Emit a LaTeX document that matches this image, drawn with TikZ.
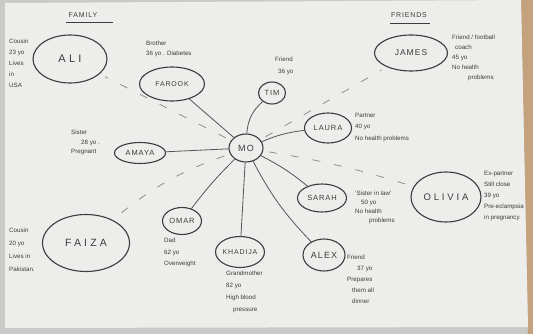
\documentclass[tikz,border=0pt]{standalone}
\usepackage{fontspec}
\setmainfont{Liberation Sans}
\newfontfamily\namefont[LetterSpace=12]{Liberation Sans}
\newfontfamily\widefont[LetterSpace=30]{Liberation Sans}
\usetikzlibrary{shapes.geometric}
\definecolor{paper}{HTML}{EDEDEB}
\definecolor{desk}{HTML}{C4A27E}
\definecolor{floorgray}{HTML}{C9C9C7}
\definecolor{ink}{HTML}{3C3C3C}
\definecolor{pencil}{HTML}{555555}
\definecolor{faint}{HTML}{8E8E8C}
\tikzset{
  person/.style={ellipse, draw=ink, line width=1.1pt, inner sep=0pt,
    text=ink, font=\namefont\fontsize{7.5}{7.5}\selectfont},
  note/.style={text=ink, align=left, inner sep=0pt, anchor=north west,
    font=\fontsize{6.2}{10}\selectfont},
  heading/.style={text=ink, inner sep=0pt, font=\namefont\fontsize{7}{7}\selectfont},
  tie/.style={draw=pencil, line width=0.8pt},
  loose/.style={draw=faint, line width=0.8pt, dash pattern=on 8pt off 14pt,
    shorten <=6pt, shorten >=6pt}
}
\begin{document}
\begin{tikzpicture}[x=1pt, y=-1pt]
  \useasboundingbox (0,0) rectangle (533,334);
  % desk and sheet of paper
  \fill[floorgray] (0,0) rectangle (533,334);
  \fill[desk] (521,0) -- (533,0) -- (533,334) -- (528,334) -- cycle;
  \fill[paper] (5,3) -- (521,0) -- (528,327) -- (5,328) -- cycle;

  % group headings
  \node[heading] (family) at (83,15) {FAMILY};
  \draw[ink, line width=0.7pt] (family.south west) ++(-3,5) coordinate (fu1) -- ++(47,0) coordinate (fu2);
  \node[heading] (friends) at (409,15) {FRIENDS};
  \draw[ink, line width=0.7pt] (friends.south west) ++(-1,6) coordinate (fr1) -- ++(40,0) coordinate (fr2);

  % people
  \node[person, minimum width=34pt, minimum height=28pt,
        font=\namefont\fontsize{9}{9}\selectfont] (mo) at (246,148) {MO};
  \node[person, minimum width=74pt, minimum height=48pt,
        font=\widefont\fontsize{11}{11}\selectfont] (ali) at (70,59) {ALI};
  \node[person, minimum width=65pt, minimum height=34pt,
        font=\namefont\fontsize{7}{7}\selectfont] (farook) at (172,84) {FAROOK};
  \node[person, minimum width=27pt, minimum height=22pt] (tim) at (272,93) {TIM};
  \node[person, minimum width=73pt, minimum height=36pt,
        font=\namefont\fontsize{8.5}{8.5}\selectfont] (james) at (411,53) {JAMES};
  \node[person, minimum width=47pt, minimum height=30pt] (laura) at (328,128) {LAURA};
  \node[person, minimum width=51pt, minimum height=21pt] (amaya) at (140,153) {AMAYA};
  \node[person, minimum width=70pt, minimum height=50pt,
        font=\widefont\fontsize{9.5}{9.5}\selectfont] (olivia) at (446,197) {OLIVIA};
  \node[person, minimum width=49pt, minimum height=28pt] (sarah) at (322,198) {SARAH};
  \node[person, minimum width=39pt, minimum height=27pt] (omar) at (182,221) {OMAR};
  \node[person, minimum width=87pt, minimum height=57pt,
        font=\widefont\fontsize{10.5}{10.5}\selectfont] (faiza) at (86,243) {FAIZA};
  \node[person, minimum width=46pt, minimum height=31pt,
        font=\namefont\fontsize{7}{7}\selectfont] (khadija) at (240,252) {KHADIJA};
  \node[person, minimum width=42pt, minimum height=32pt,
        font=\namefont\fontsize{9}{9}\selectfont] (alex) at (324,255) {ALEX};

  % notes beside each person
  \node[note, font=\fontsize{6.2}{11}\selectfont] (alin) at (9,39) {Cousin\\23 yo\\Lives\\in\\USA};
  \node[note] (farookn) at (146,41) {Brother\\36 yo . Diabetes};
  \node[note, font=\fontsize{6.2}{12}\selectfont] (timn) at (275,57) {Friend\\\hspace*{3pt}36 yo};
  \node[note] (jamesn) at (452,35) {Friend / football\\\hspace*{3pt}coach\\45 yo\\No health\\\hspace*{16pt}problems};
  \node[note, font=\fontsize{6.2}{11.5}\selectfont] (lauran) at (355,113) {Partner\\40 yo\\No health problems};
  \node[note, font=\fontsize{6.2}{9.5}\selectfont] (amayan) at (71,130) {Sister\\\hspace*{10pt}28 yo .\\Pregnant};
  \node[note, font=\fontsize{6.2}{11}\selectfont] (olivian) at (484,171) {Ex-partner\\Still close\\39 yo\\Pre-eclampsia\\in pregnancy};
  \node[note, font=\fontsize{6.2}{9}\selectfont] (sarahn) at (355,191) {`Sister in law'\\\hspace*{6pt}50 yo\\No health\\\hspace*{14pt}problems};
  \node[note, font=\fontsize{6.2}{11.5}\selectfont] (omarn) at (164,238) {Dad\\62 yo\\Overweight};
  \node[note, font=\fontsize{6.2}{13}\selectfont] (faizan) at (9,228) {Cousin\\20 yo\\Lives in\\Pakistan.};
  \node[note, font=\fontsize{6.2}{12}\selectfont] (khadijan) at (226,271) {Grandmother\\82 yo\\High blood\\\hspace*{7pt}pressure};
  \node[note, font=\fontsize{6.2}{11}\selectfont] (alexn) at (347,255) {Friend\\\hspace*{10pt}37 yo\\Prepares\\\hspace*{5pt}them all\\\hspace*{5pt}dinner};

  % close ties
  \draw[tie] (mo) -- (farook);
  \draw[tie] (mo) to[bend left=22] (tim);
  \draw[tie] (mo) to[bend left=8] (laura);
  \draw[tie] (mo) -- (amaya);
  \draw[tie] (mo) to[bend right=4] (omar);
  \draw[tie] (mo) -- (khadija);
  \draw[tie] (mo) to[bend left=6] (sarah);
  \draw[tie] (mo) to[bend right=8] (alex);

  % looser ties
  \draw[loose] (mo) -- (ali);
  \draw[loose] (mo) -- (james);
  \draw[loose] (mo) to[bend left=4] (olivia);
  \draw[loose] (mo) to[bend right=10] (faiza);
\end{tikzpicture}
\end{document}
